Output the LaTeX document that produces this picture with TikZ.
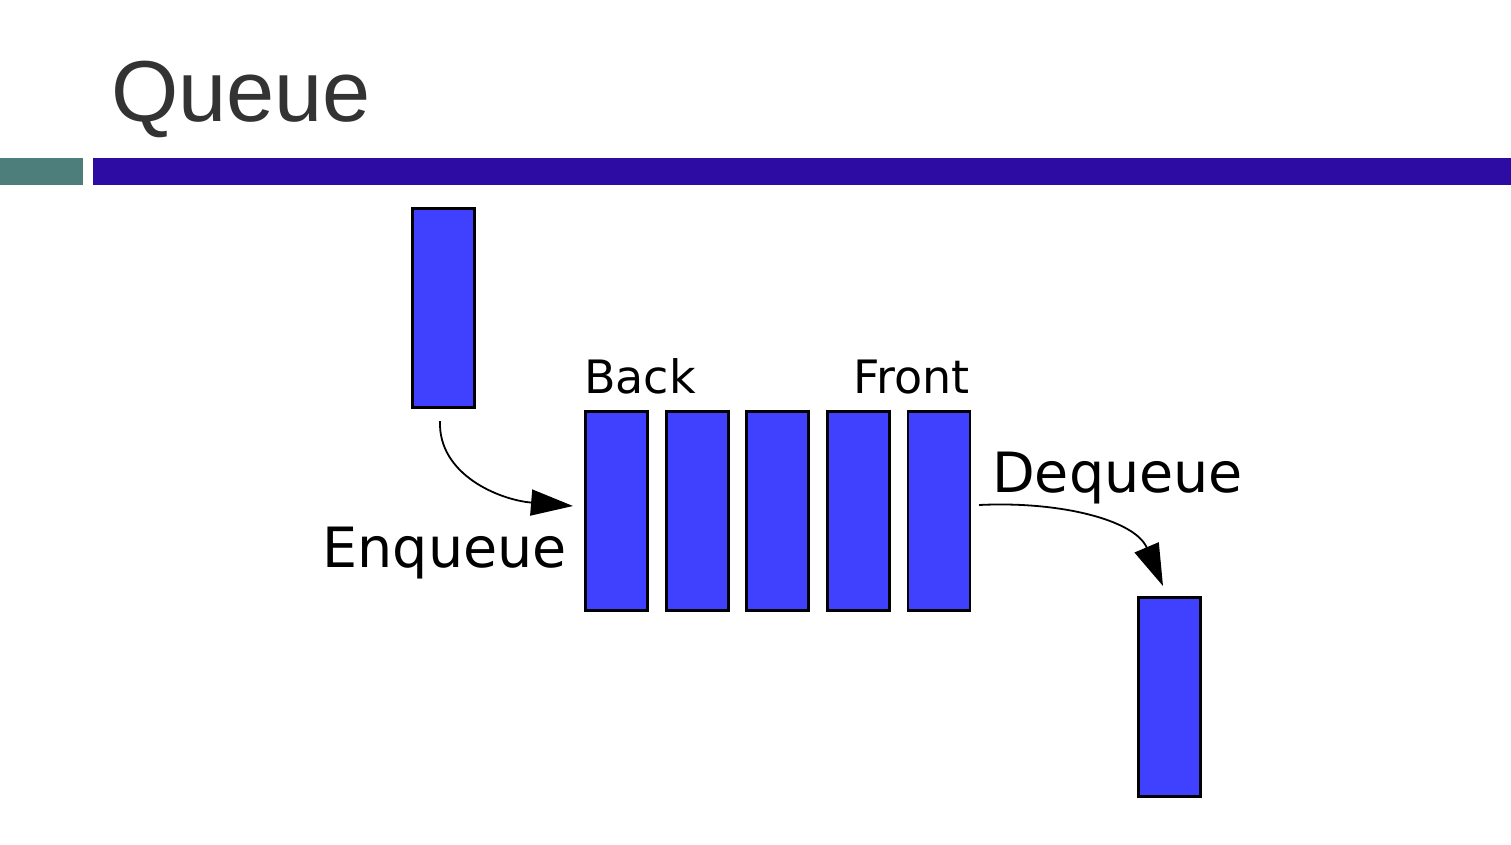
\documentclass[tikz,border=0pt]{standalone}
\usepackage{fontspec}
\setmainfont{DejaVu Sans}
\newfontfamily\titlefont{Liberation Sans}
\usetikzlibrary{arrows.meta}
\definecolor{boxblue}{HTML}{4040FF}
\definecolor{barblue}{HTML}{2C0CA2}
\definecolor{barteal}{HTML}{4E7E7B}
\definecolor{titlegray}{HTML}{333333}
\tikzset{
  qbox/.style={draw=black, line width=2.4pt, fill=boxblue, minimum width=62pt, minimum height=199pt, inner sep=0pt, outer sep=0pt},
  lbl/.style={font=\fontsize{46}{50}\selectfont, text=black, inner sep=0pt},
  biglbl/.style={font=\fontsize{55.5}{60}\selectfont, text=black, inner sep=0pt},
  flow/.style={line width=1.8pt, -{Triangle[length=42pt,width=26pt]}}
}
\begin{document}
\begin{tikzpicture}[x=1pt,y=-1pt]
\useasboundingbox[fill=white] (0,0) rectangle (1511,844);
% title
\node[anchor=base west, inner sep=0pt, text=titlegray, font=\titlefont\fontsize{86.5}{90}\selectfont] (title) at (111,121) {Queue};
% bars
\fill[barteal] (0,158) rectangle (83,185);
\fill[barblue] (93,158) rectangle (1511,185);
% boxes
\node[qbox] (top) at (443.5,308) {};
\node[qbox] (q1) at (616.5,511) {};
\node[qbox] (q2) at (697.5,511) {};
\node[qbox] (q3) at (777.5,511) {};
\node[qbox] (q4) at (858.5,511) {};
\node[qbox] (q5) at (939,511) {};
\node[qbox] (out) at (1169.5,697) {};
% labels
\node[lbl, anchor=base west] (back) at (584,393) {Back};
\node[lbl, anchor=base east] (front) at (970,393) {Front};
\node[biglbl, anchor=base east] (enq) at (567,567) {Enqueue};
\node[biglbl, anchor=base west] (deq) at (992,492) {Dequeue};
% arrows
\coordinate (enqstart) at (440,421);
\coordinate (enqend) at (573,506);
\coordinate (deqstart) at (979,505);
\coordinate (deqend) at (1163,586);
\draw[flow] (enqstart) .. controls (438,475) and (500,500) .. (enqend);
\draw[flow] (deqstart) .. controls (1060,501) and (1135,520) .. (deqend);
\end{tikzpicture}
\end{document}
